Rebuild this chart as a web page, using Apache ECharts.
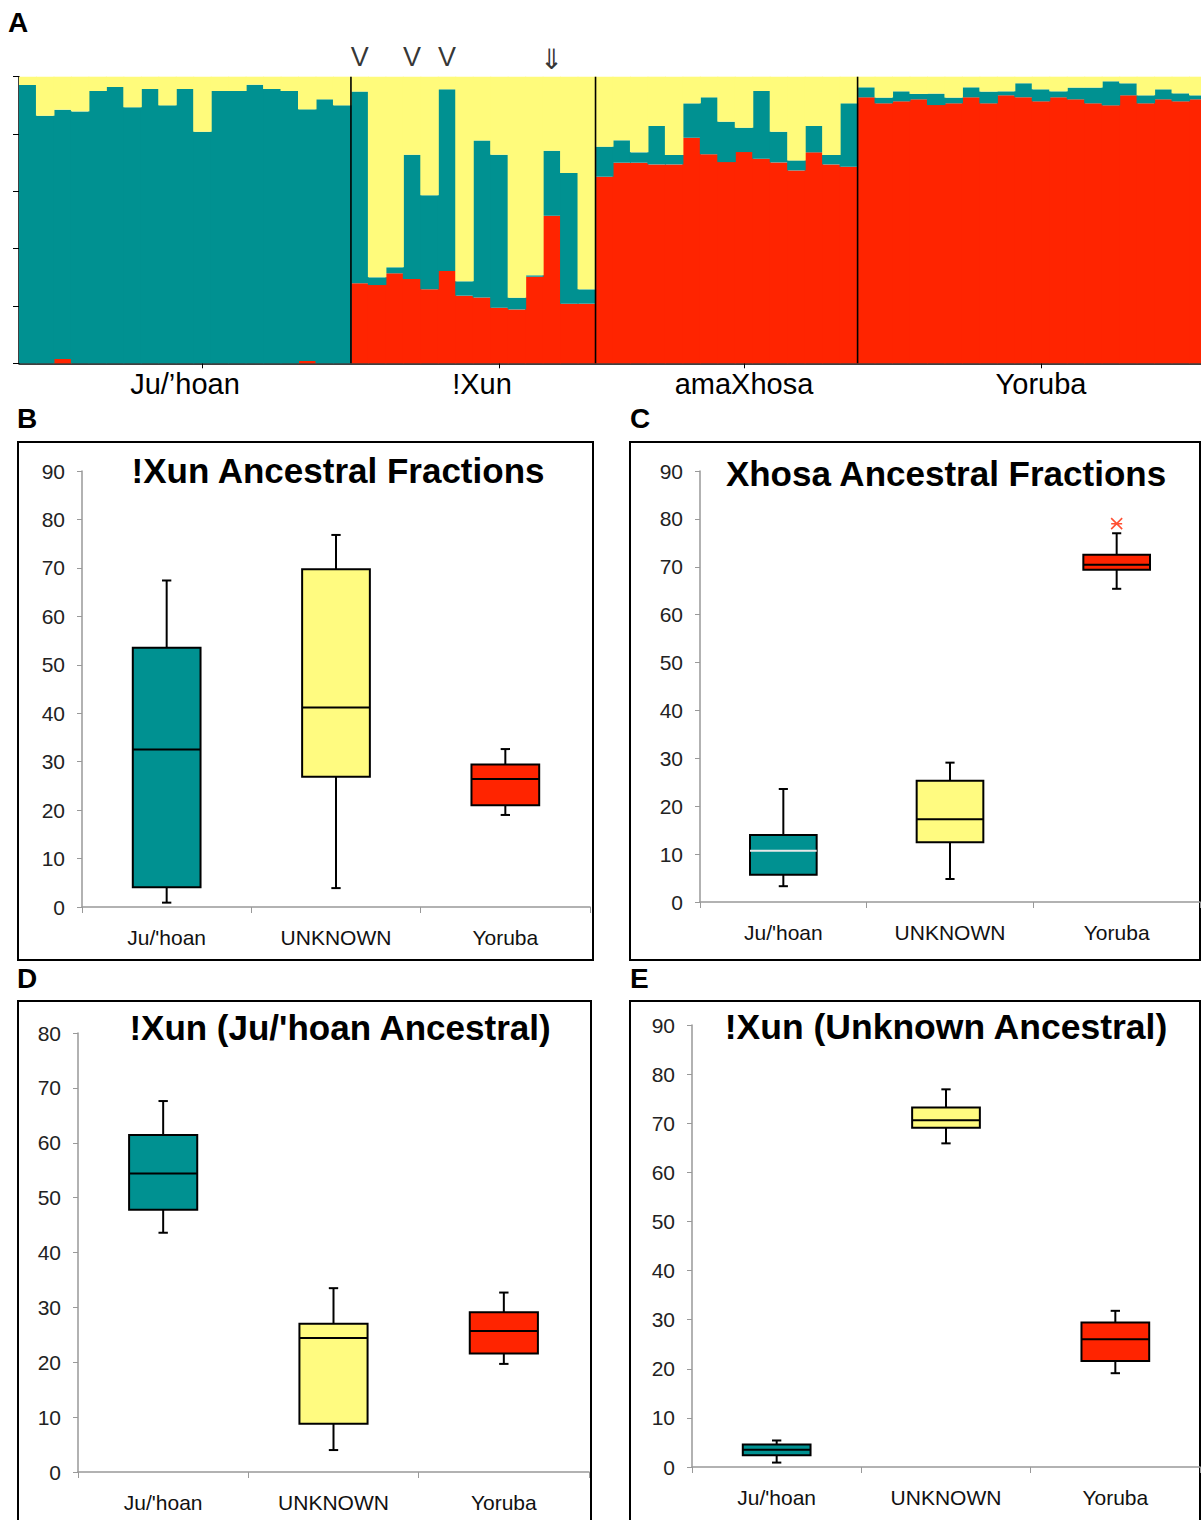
<!DOCTYPE html>
<html>
<head>
<meta charset="utf-8">
<script src="https://cdn.jsdelivr.net/npm/echarts@6/dist/echarts.min.js"></script>
<style>
html,body{margin:0;padding:0;background:#fff;overflow:hidden;}
#chart{width:1201px;height:1520px;overflow:hidden;}
</style>
</head>
<body>
<div id="chart"></div>
<script>
// ---------- Panel A data (percent ancestry per individual) ----------
const sampleGroups = ['Ju/\u2019hoan', '!Xun', 'amaXhosa', 'Yoruba'];
const groupSizes = [19, 14, 15, 20];
const groupLabelIndex = [9, 26, 41, 58];
const groupTickIndex = [10, 27, 41, 58];
const groupBoundaries = [19, 33, 48];

// red (Yoruba-like) component
const yorubaShare = [
  0, 0, 1.5, 0, 0, 0, 0, 0, 0, 0, 0, 0, 0, 0, 0, 0, 0.8, 0, 0,
  27.9, 27.3, 31.4, 29.4, 25.8, 32.2, 23.6, 23.0, 19.4, 18.8, 30.2, 51.5, 20.8, 20.8,
  65.1, 70.0, 70.0, 69.4, 69.4, 78.7, 72.9, 70.2, 73.7, 71.4, 70.1, 67.3, 73.6, 69.4, 68.6,
  92.8, 90.7, 91.4, 92.1, 90.1, 90.7, 92.8, 90.7, 93.5, 92.8, 91.4, 92.8, 92.1, 90.7, 90.0, 93.5, 90.7, 92.1, 91.4, 92.1
];
// teal (Ju/'hoan-like) component
const juhoanShare = [
  97.1, 86.4, 87.0, 87.9, 95.0, 96.4, 89.3, 95.7, 90.0, 95.7, 80.8, 95.0, 95.0, 97.2, 95.7, 95.0, 87.8, 92.1, 90.0,
  66.9, 2.7, 2.1, 43.4, 32.8, 63.4, 5.0, 54.7, 53.4, 4.1, 0.5, 22.7, 45.6, 5.0,
  10.5, 7.8, 3.6, 13.4, 3.3, 12.0, 19.9, 14.1, 8.5, 23.6, 10.7, 3.5, 9.2, 3.3, 22.1,
  3.5, 2.0, 3.5, 1.9, 4.0, 2.0, 3.5, 4.1, 1.4, 4.9, 4.2, 2.1, 4.1, 5.5, 8.4, 4.2, 2.8, 3.5, 2.8, 1.4
];
// yellow (unknown) component
const unknownShare = [
  2.9, 13.6, 11.5, 12.1, 5.0, 3.6, 10.7, 4.3, 10.0, 4.3, 19.2, 5.0, 5.0, 2.8, 4.3, 5.0, 11.4, 7.9, 10.0,
  5.2, 70.0, 66.5, 27.2, 41.4, 4.4, 71.4, 22.3, 27.2, 77.1, 69.3, 25.8, 33.6, 74.2,
  24.4, 22.2, 26.4, 17.2, 27.3, 9.3, 7.2, 15.7, 17.8, 5.0, 19.2, 29.2, 17.2, 27.3, 9.3,
  3.7, 7.3, 5.1, 6.0, 5.9, 7.3, 3.7, 5.2, 5.1, 2.3, 4.4, 5.1, 3.8, 3.8, 1.6, 2.3, 6.5, 4.4, 5.8, 6.5
];
const markerV = [19, 22, 24];
const markerArrow = [30];

// ---------- Box plot data: [low whisker, Q1, median, Q3, high whisker] ----------
const boxCategories = ["Ju/'hoan", 'UNKNOWN', 'Yoruba'];
const boxB = [[0.9, 4.1, 32.5, 53.5, 67.4], [3.9, 26.9, 41.2, 69.7, 76.8], [19.0, 21.0, 26.4, 29.4, 32.6]];
const boxC = [[3.3, 5.7, 10.7, 14.0, 23.6], [4.8, 12.5, 17.3, 25.3, 29.1], [65.4, 69.4, 70.4, 72.5, 77.0]];
const outlierC = [[2, 79.0]];
const boxD = [[43.6, 47.8, 54.4, 61.4, 67.6], [4.0, 8.8, 24.4, 27.0, 33.5], [19.7, 21.6, 25.7, 29.1, 32.7]];
const boxE = [[0.9, 2.4, 3.5, 4.6, 5.4], [65.9, 69.1, 70.6, 73.2, 76.9], [19.1, 21.6, 26.0, 29.4, 31.8]];
const panelTitles = ['!Xun Ancestral Fractions', 'Xhosa Ancestral Fractions', "!Xun (Ju/'hoan Ancestral)", '!Xun (Unknown Ancestral)'];

// ---------- styling ----------
const TEAL = '#009191';
const YELLOW = '#FFFB7B';
const RED = '#FF2400';
const boxColors = [TEAL, '#FFFB80', RED];
const FONT = '"Liberation Sans", Arial, Helvetica, sans-serif';

const categories = [];
sampleGroups.forEach((g, gi) => {
  for (let i = 0; i < groupSizes[gi]; i++) categories.push(g + ' ' + (i + 1));
});

const chart = echarts.init(document.getElementById('chart'), null, {renderer: 'svg', width: 1201, height: 1520});

const boxGrids = [
  {left: 82, top: 471, width: 508, height: 436, max: 90},
  {left: 700, top: 471, width: 500, height: 431, max: 90},
  {left: 78, top: 1033, width: 511, height: 439, max: 80},
  {left: 692, top: 1025, width: 508, height: 442, max: 90}
];

const grids = [{left: 19, top: 76.7, width: 1188, height: 286.6, outerBoundsMode: 'none', containLabel: false}]
  .concat(boxGrids.map(g => ({left: g.left, top: g.top, width: g.width, height: g.height, outerBoundsMode: 'none', containLabel: false})));

const xAxes = [{
  type: 'category', gridIndex: 0, data: categories, boundaryGap: true,
  axisLine: {show: true, lineStyle: {color: '#000', width: 1.5}},
  axisTick: {show: true, alignWithLabel: true, length: 5, lineStyle: {color: '#000'},
    interval: (i) => groupTickIndex.includes(i)},
  axisLabel: {show: true, interval: (i) => groupLabelIndex.includes(i),
    formatter: (v, i) => sampleGroups[groupLabelIndex.indexOf(i)] || '',
    fontSize: 29, color: '#000', margin: 6, fontFamily: FONT},
  splitLine: {show: false}
}];
const yAxes = [{
  type: 'value', gridIndex: 0, min: 0, max: 100, interval: 20,
  axisLine: {show: true, lineStyle: {color: '#000', width: 1.5}},
  axisTick: {show: true, length: 6, lineStyle: {color: '#000'}},
  axisLabel: {show: false}, splitLine: {show: false}
}];
boxGrids.forEach((g, k) => {
  xAxes.push({
    type: 'category', gridIndex: k + 1, data: boxCategories, boundaryGap: true,
    axisLine: {show: true, lineStyle: {color: '#999', width: 1.5}},
    axisTick: {show: true, length: 6, lineStyle: {color: '#999'}},
    axisLabel: {fontSize: 21, color: '#111', margin: 20, fontFamily: FONT},
    splitLine: {show: false}
  });
  yAxes.push({
    type: 'value', gridIndex: k + 1, min: 0, max: g.max, interval: 10,
    axisLine: {show: true, lineStyle: {color: '#999', width: 1.5}},
    axisTick: {show: true, length: 5, lineStyle: {color: '#999'}},
    axisLabel: {fontSize: 21, color: '#222', margin: 17, fontFamily: FONT},
    splitLine: {show: false}
  });
});

function barSeries(name, data, color) {
  return {
    name, type: 'bar', stack: 'anc', xAxisIndex: 0, yAxisIndex: 0, data,
    barWidth: '106%', barGap: '0%',
    itemStyle: {color, borderWidth: 0},
    emphasis: {disabled: true}, animation: false
  };
}

function boxSeries(k, data, medianColors) {
  return {
    type: 'custom', xAxisIndex: k + 1, yAxisIndex: k + 1,
    data: data.map((d, i) => [i].concat(d)),
    encode: {x: 0, y: [1, 2, 3, 4, 5]},
    animation: false, z: 5,
    renderItem: function (params, api) {
      const i = api.value(0);
      const lo = api.coord([i, api.value(1)]);
      const q1 = api.coord([i, api.value(2)]);
      const md = api.coord([i, api.value(3)]);
      const q3 = api.coord([i, api.value(4)]);
      const hi = api.coord([i, api.value(5)]);
      const band = api.size([1, 0])[0];
      const bw = band * 0.40;
      const cw = band * 0.055;
      const cx = lo[0];
      const ls = {stroke: '#000', lineWidth: 2};
      return {
        type: 'group',
        children: [
          {type: 'line', shape: {x1: cx, y1: lo[1], x2: cx, y2: q1[1]}, style: ls},
          {type: 'line', shape: {x1: cx, y1: q3[1], x2: cx, y2: hi[1]}, style: ls},
          {type: 'line', shape: {x1: cx - cw / 2, y1: lo[1], x2: cx + cw / 2, y2: lo[1]}, style: ls},
          {type: 'line', shape: {x1: cx - cw / 2, y1: hi[1], x2: cx + cw / 2, y2: hi[1]}, style: ls},
          {type: 'rect', shape: {x: cx - bw / 2, y: q3[1], width: bw, height: q1[1] - q3[1]},
            style: {fill: boxColors[i], stroke: '#000', lineWidth: 2}},
          {type: 'line', shape: {x1: cx - bw / 2, y1: md[1], x2: cx + bw / 2, y2: md[1]},
            style: {stroke: medianColors[i], lineWidth: 2}}
        ]
      };
    }
  };
}

const series = [
  barSeries('Yoruba', yorubaShare, RED),
  barSeries("Ju/'hoan", juhoanShare, TEAL),
  barSeries('Unknown', unknownShare, YELLOW),
  {
    // black separators between population groups (drawn above bars)
    type: 'custom', xAxisIndex: 0, yAxisIndex: 0, z: 8, animation: false, silent: true,
    data: groupBoundaries.map(b => [b, 0, 100]),
    encode: {x: 0, y: [1, 2]},
    renderItem: function (params, api) {
      const b = api.value(0);
      const band = api.size([1, 0])[0];
      const p0 = api.coord([b, api.value(1)]);
      const p1 = api.coord([b, api.value(2)]);
      const x = p0[0] - band / 2;
      return {type: 'line', shape: {x1: x, y1: p0[1], x2: x, y2: p1[1]}, style: {stroke: '#000', lineWidth: 1.6}};
    }
  },
  {
    type: 'scatter', xAxisIndex: 0, yAxisIndex: 0, data: markerV.map(i => [i, 100]),
    symbolSize: 1, itemStyle: {color: 'rgba(0,0,0,0)'}, silent: true, animation: false, clip: false,
    label: {show: true, position: 'top', distance: 6, formatter: 'V', fontSize: 27, color: '#000', fontFamily: FONT}
  },
  {
    type: 'scatter', xAxisIndex: 0, yAxisIndex: 0, data: markerArrow.map(i => [i, 100]),
    symbolSize: 1, itemStyle: {color: 'rgba(0,0,0,0)'}, silent: true, animation: false, clip: false,
    label: {show: true, position: 'top', distance: 3, formatter: '\u21D3', fontSize: 28, color: '#000', fontFamily: '"DejaVu Sans", sans-serif'}
  },
  boxSeries(0, boxB, ['#000', '#000', '#000']),
  boxSeries(1, boxC, ['#e8e8e8', '#000', '#000']),
  boxSeries(2, boxD, ['#000', '#000', '#000']),
  boxSeries(3, boxE, ['#000', '#000', '#000']),
  {
    type: 'scatter', xAxisIndex: 2, yAxisIndex: 2, data: outlierC, animation: false, z: 6,
    symbol: 'path://M0,0L10,10M10,0L0,10M0,5L10,5', symbolSize: 11,
    itemStyle: {color: 'none', borderColor: RED, borderWidth: 1.6}
  }
];

function txt(text, x, y, size, align) {
  return {type: 'text', x, y, z: 10, silent: true,
    style: {text, font: 'bold ' + size + 'px ' + FONT, fill: '#000', align: align || 'center', verticalAlign: 'middle'}};
}
function frame(x, y, w, h) {
  return {type: 'rect', shape: {x, y, width: w, height: h}, z: 0, silent: true,
    style: {fill: 'none', stroke: '#000', lineWidth: 2}};
}

const graphic = [
  frame(18, 442, 575, 518),
  frame(630, 442, 570, 518),
  frame(18, 1001, 573, 530),
  frame(630, 1001, 570, 530),
  txt('A', 8, 22, 28, 'left'),
  txt('B', 17, 418, 28, 'left'),
  txt('C', 630, 418, 28, 'left'),
  txt('D', 17, 978, 28, 'left'),
  txt('E', 630, 978, 28, 'left'),
  txt(panelTitles[0], 338, 470, 35),
  txt(panelTitles[1], 946, 473, 35),
  txt(panelTitles[2], 340, 1027, 35),
  txt(panelTitles[3], 946, 1027, 35.5)
];

chart.setOption({
  animation: false,
  backgroundColor: '#fff',
  grid: grids,
  xAxis: xAxes,
  yAxis: yAxes,
  series,
  graphic
});
</script>
</body>
</html>
